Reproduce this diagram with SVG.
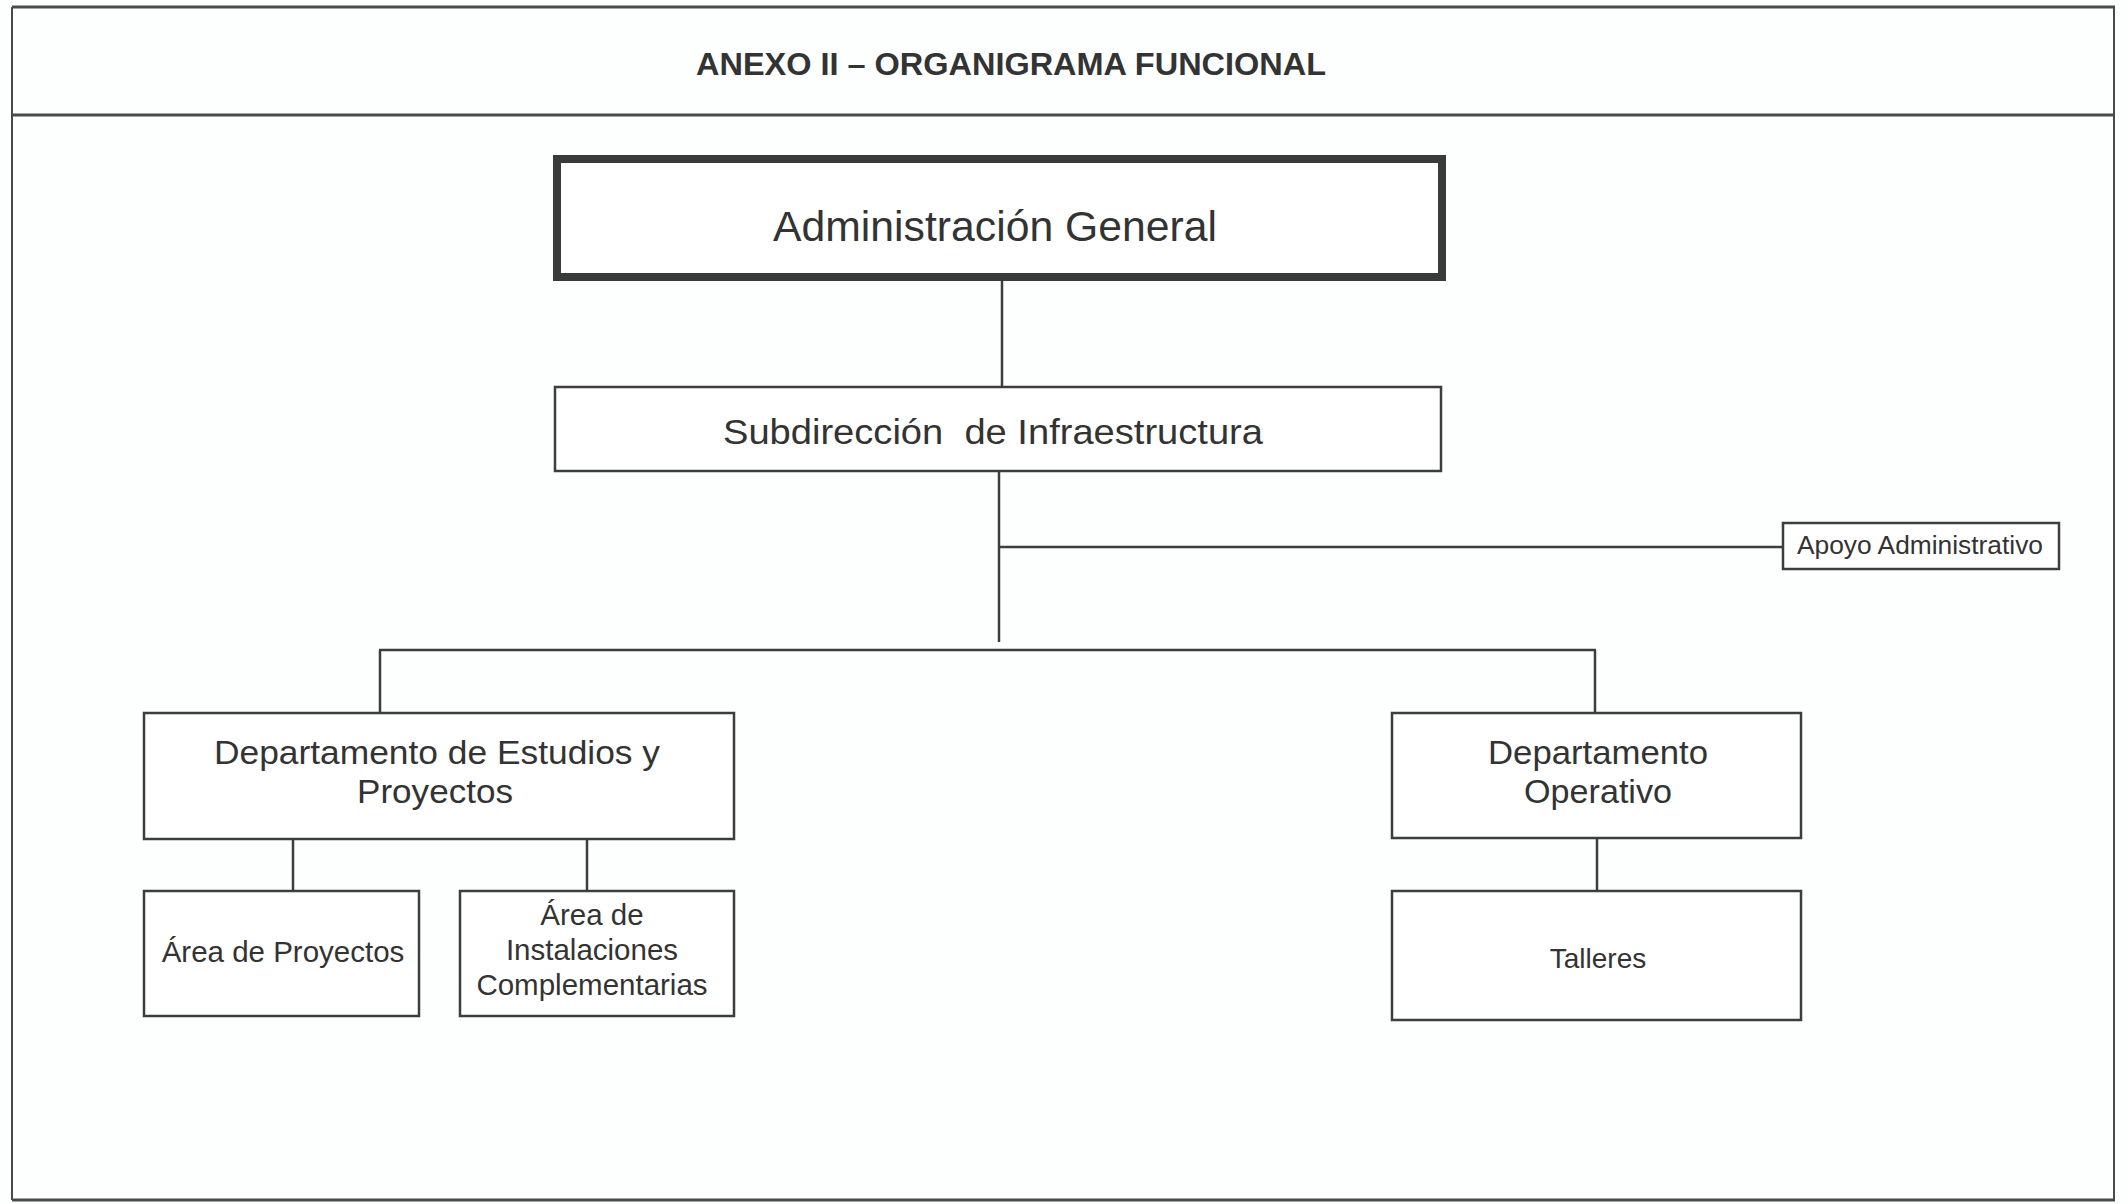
<svg xmlns="http://www.w3.org/2000/svg" width="2128" height="1204" viewBox="0 0 2128 1204">
  <style>
    .box { fill: #ffffff; stroke: #3d3d3d; stroke-width: 2.5; }
    .thick { fill: #ffffff; stroke: #3a3a3a; stroke-width: 8; }
    .lbl { font-family: "Liberation Sans", Arial, sans-serif; fill: #333333; text-anchor: middle; }
    .conn line { stroke: #3d3d3d; stroke-width: 2.5; }
    .frame { stroke: #4a4a4a; fill: none; }
  </style>
  <rect x="0" y="0" width="2128" height="1204" fill="#fdfefe"/>

  <g id="frame">
    <line class="frame" x1="12" y1="7" x2="2115" y2="7" stroke-width="3"/>
    <line class="frame" x1="12" y1="115" x2="2115" y2="115" stroke-width="3"/>
    <line class="frame" x1="12" y1="1200" x2="2115" y2="1200" stroke-width="3"/>
    <line class="frame" x1="12" y1="7" x2="12" y2="1200" stroke-width="2"/>
    <line class="frame" x1="2114" y1="7" x2="2114" y2="1200" stroke-width="2"/>
  </g>

  <g id="title">
    <text class="lbl" x="1011" y="75" font-size="31" font-weight="bold" textLength="630" lengthAdjust="spacingAndGlyphs">ANEXO II – ORGANIGRAMA FUNCIONAL</text>
  </g>

  <g id="connectors" class="conn">
    <line x1="1002" y1="281" x2="1002" y2="387"/>
    <line x1="999" y1="471" x2="999" y2="642"/>
    <line x1="999" y1="547" x2="1783" y2="547"/>
    <line x1="379" y1="650" x2="1596" y2="650"/>
    <line x1="380" y1="650" x2="380" y2="713"/>
    <line x1="1595" y1="650" x2="1595" y2="713"/>
    <line x1="293" y1="839" x2="293" y2="891"/>
    <line x1="587" y1="839" x2="587" y2="891"/>
    <line x1="1597" y1="838" x2="1597" y2="891"/>
  </g>

  <g id="administracion-general">
    <rect class="thick" x="557" y="159" width="885" height="118"/>
    <text class="lbl" x="995" y="241" font-size="43" textLength="444" lengthAdjust="spacingAndGlyphs">Administración General</text>
  </g>

  <g id="subdireccion-infraestructura">
    <rect class="box" x="555" y="387" width="886" height="84"/>
    <text class="lbl" x="993" y="444" font-size="35" xml:space="preserve" textLength="540" lengthAdjust="spacingAndGlyphs">Subdirección  de Infraestructura</text>
  </g>

  <g id="apoyo-administrativo">
    <rect class="box" x="1783" y="523" width="276" height="46"/>
    <text class="lbl" x="1920" y="554" font-size="26" textLength="246" lengthAdjust="spacingAndGlyphs">Apoyo Administrativo</text>
  </g>

  <g id="dept-estudios-proyectos">
    <rect class="box" x="144" y="713" width="590" height="126"/>
    <text class="lbl" x="437" y="764" font-size="34" textLength="446" lengthAdjust="spacingAndGlyphs">Departamento de Estudios y</text>
    <text class="lbl" x="435" y="803" font-size="34" textLength="156" lengthAdjust="spacingAndGlyphs">Proyectos</text>
  </g>

  <g id="dept-operativo">
    <rect class="box" x="1392" y="713" width="409" height="125"/>
    <text class="lbl" x="1598" y="764" font-size="34" textLength="220" lengthAdjust="spacingAndGlyphs">Departamento</text>
    <text class="lbl" x="1598" y="803" font-size="34" textLength="148" lengthAdjust="spacingAndGlyphs">Operativo</text>
  </g>

  <g id="area-proyectos">
    <rect class="box" x="144" y="891" width="275" height="125"/>
    <text class="lbl" x="283" y="962" font-size="29.5">Área de Proyectos</text>
  </g>

  <g id="area-instalaciones">
    <rect class="box" x="460" y="891" width="274" height="125"/>
    <text class="lbl" x="592" y="925" font-size="29.5">Área de</text>
    <text class="lbl" x="592" y="960" font-size="29.5">Instalaciones</text>
    <text class="lbl" x="592" y="995" font-size="29.5">Complementarias</text>
  </g>

  <g id="talleres">
    <rect class="box" x="1392" y="891" width="409" height="129"/>
    <text class="lbl" x="1598" y="968" font-size="28">Talleres</text>
  </g>
</svg>
